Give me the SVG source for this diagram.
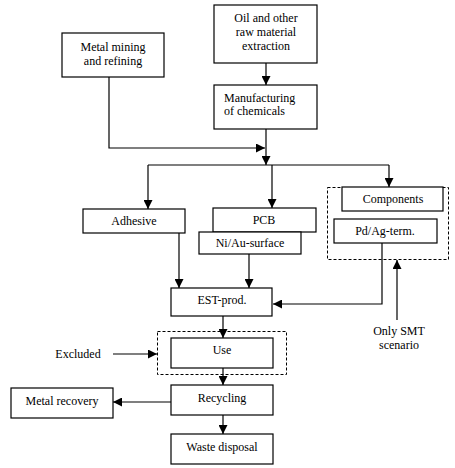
<svg xmlns="http://www.w3.org/2000/svg" width="455" height="468" viewBox="0 0 455 468">
<style>
.box{fill:#fff;stroke:#000;stroke-width:1.2}
.dash{fill:none;stroke:#000;stroke-width:1;stroke-dasharray:3,2}
.ln{fill:none;stroke:#000;stroke-width:1.2}
text{font-family:"Liberation Serif","DejaVu Serif",serif;font-size:12px;fill:#000}
.c{text-anchor:middle}
</style>
<defs>
<marker id="ah" markerWidth="9" markerHeight="9" viewBox="0 0 9 9" refX="9" refY="4.5" orient="auto" markerUnits="userSpaceOnUse">
<path d="M0,0 L9,4.5 L0,9 Z" fill="#000"/>
</marker>
</defs>
<rect width="455" height="468" fill="#fff"/>
<g id="connectors">
<path class="ln" d="M266,63 V85" marker-end="url(#ah)"/>
<path class="ln" d="M266,129 V165" marker-end="url(#ah)"/>
<path class="ln" d="M109,77 V148 H265" marker-end="url(#ah)"/>
<path class="ln" d="M148,165 H389"/>
<path class="ln" d="M148,165 V209" marker-end="url(#ah)"/>
<path class="ln" d="M272,165 V208" marker-end="url(#ah)"/>
<path class="ln" d="M389,165 V187" marker-end="url(#ah)"/>
<path class="ln" d="M179,233 V288" marker-end="url(#ah)"/>
<path class="ln" d="M249,254 V288" marker-end="url(#ah)"/>
<path class="ln" d="M382,243 V304 H273" marker-end="url(#ah)"/>
<path class="ln" d="M397,320 V260" marker-end="url(#ah)"/>
<path class="ln" d="M223,316 V338" marker-end="url(#ah)"/>
<path class="ln" d="M113,354 H157" marker-end="url(#ah)"/>
<path class="ln" d="M223,368 V385" marker-end="url(#ah)"/>
<path class="ln" d="M171,402 H113" marker-end="url(#ah)"/>
<path class="ln" d="M223,415 V434" marker-end="url(#ah)"/>
</g>
<g font-family="'Liberation Serif', 'DejaVu Serif', serif">
<g id="metal-mining">
<rect class="box" x="62" y="33" width="102" height="44"/>
<text class="c" x="113" y="51">Metal mining</text>
<text class="c" x="113" y="65">and refining</text>
</g>
<g id="oil-extraction">
<rect class="box" x="214" y="5" width="103" height="58"/>
<text class="c" x="266" y="22">Oil and other</text>
<text class="c" x="266" y="36">raw material</text>
<text class="c" x="266" y="50">extraction</text>
</g>
<g id="manufacturing">
<rect class="box" x="214" y="85" width="103" height="44"/>
<text x="224" y="102">Manufacturing</text>
<text x="224" y="115">of chemicals</text>
</g>
<g id="adhesive">
<rect class="box" x="83" y="209" width="102" height="24"/>
<text class="c" x="134" y="225">Adhesive</text>
</g>
<g id="pcb">
<rect class="box" x="213" y="208" width="103" height="24"/>
<text class="c" x="264" y="224">PCB</text>
</g>
<g id="niau">
<rect class="box" x="199" y="232" width="102" height="22"/>
<text class="c" x="250" y="247">Ni/Au-surface</text>
</g>
<g id="smt-group">
<rect class="dash" x="327.5" y="187.5" width="121" height="72"/>
</g>
<g id="components">
<rect class="box" x="342" y="187" width="101" height="24"/>
<text class="c" x="393" y="203">Components</text>
</g>
<g id="pdag">
<rect class="box" x="334" y="219" width="103" height="24"/>
<text class="c" x="385" y="235">Pd/Ag-term.</text>
</g>
<g id="est">
<rect class="box" x="171" y="288" width="101" height="28"/>
<text class="c" x="222" y="304">EST-prod.</text>
</g>
<g id="only-smt">
<text class="c" x="399" y="335">Only SMT</text>
<text class="c" x="399" y="349">scenario</text>
</g>
<g id="use-group">
<rect class="dash" x="157.5" y="331.5" width="129" height="43"/>
</g>
<g id="use">
<rect class="box" x="171" y="338" width="102" height="30"/>
<text class="c" x="222" y="354">Use</text>
</g>
<g id="excluded">
<text class="c" x="78" y="358">Excluded</text>
</g>
<g id="recycling">
<rect class="box" x="171" y="385" width="102" height="30"/>
<text class="c" x="222" y="402">Recycling</text>
</g>
<g id="metal-recovery">
<rect class="box" x="11" y="388" width="102" height="30"/>
<text class="c" x="62" y="405">Metal recovery</text>
</g>
<g id="waste">
<rect class="box" x="171" y="434" width="102" height="30"/>
<text class="c" x="222" y="451">Waste disposal</text>
</g>
</g>
</svg>
